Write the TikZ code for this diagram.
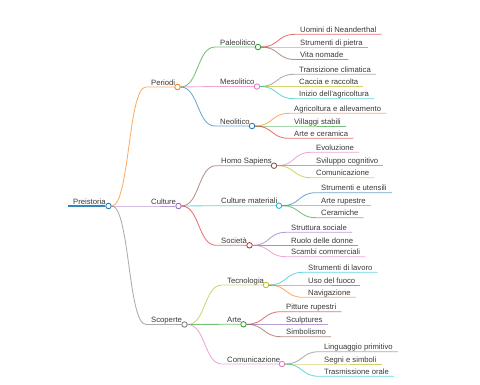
\documentclass[tikz,border=0pt]{standalone}
\usepackage{fontspec}
\setmainfont{Liberation Sans}
\usepackage{tikz}
\definecolor{c0}{HTML}{1F77B4}
\definecolor{c1}{HTML}{FF7F0E}
\definecolor{c2}{HTML}{2CA02C}
\definecolor{c3}{HTML}{D62728}
\definecolor{c4}{HTML}{9467BD}
\definecolor{c5}{HTML}{8C564B}
\definecolor{c6}{HTML}{E377C2}
\definecolor{c7}{HTML}{7F7F7F}
\definecolor{c8}{HTML}{BCBD22}
\definecolor{c9}{HTML}{17BECF}
\begin{document}
\begin{tikzpicture}[
    x=1pt, y=-1pt,
    lbl/.style={anchor=south west, inner xsep=5pt, inner ysep=1.8pt, text depth=0pt,
        text=black!78, font=\fontsize{7.7}{9}\selectfont},
    dot/.style={circle, draw=#1, fill=white, line width=0.85pt, inner sep=0pt, minimum size=5.5pt},
    link/.style={draw=#1, line width=0.85pt, draw opacity=0.65}
]
\useasboundingbox (0,0) rectangle (480,384);

\node[lbl] (pre) at (68,206) {Preistoria};
    \node[dot=c0] (pre-c) at (108.5,206) {};

\node[lbl] (per) at (146,87) {Periodi};
    \node[dot=c1] (per-c) at (177.5,87) {};
    \node[lbl] (cul) at (146,206) {Culture};
    \node[dot=c4] (cul-c) at (178.5,206) {};
    \node[lbl] (sco) at (146,324.5) {Scoperte};
    \node[dot=c7] (sco-c) at (184.5,324.5) {};

\node[lbl] (pal) at (215,47) {Paleolitico};
    \node[dot=c2] (pal-c) at (258,47) {};
    \node[lbl] (mes) at (215,86.5) {Mesolitico};
    \node[dot=c6] (mes-c) at (257,86.5) {};
    \node[lbl] (neo) at (215,126) {Neolitico};
    \node[dot=c0] (neo-c) at (252,126) {};
    \node[lbl] (hom) at (216,165.7) {Homo Sapiens};
    \node[dot=c5] (hom-c) at (274,165.7) {};
    \node[lbl] (cma) at (216,205.7) {Culture materiali};
    \node[dot=c9] (cma-c) at (279,205.7) {};
    \node[lbl] (soc) at (216,245.3) {Società};
    \node[dot=c3] (soc-c) at (249.5,245.3) {};
    \node[lbl] (tec) at (222,285) {Tecnologia};
    \node[dot=c8] (tec-c) at (266,285) {};
    \node[lbl] (art) at (222,324.3) {Arte};
    \node[dot=c2] (art-c) at (243.5,324.3) {};
    \node[lbl] (com) at (222,364) {Comunicazione};
    \node[dot=c6] (com-c) at (282,364) {};

\node[lbl] (pal1) at (295,34.3) {Uomini di Neanderthal};
    \node[lbl] (pal2) at (295,47) {Strumenti di pietra};
    \node[lbl] (pal3) at (295,59.5) {Vita nomade};
    \node[lbl] (mes1) at (294,74.3) {Transizione climatica};
    \node[lbl] (mes2) at (294,86.5) {Caccia e raccolta};
    \node[lbl] (mes3) at (294,98.7) {Inizio dell'agricoltura};
    \node[lbl] (neo1) at (289,113.3) {Agricoltura e allevamento};
    \node[lbl] (neo2) at (289,126) {Villaggi stabili};
    \node[lbl] (neo3) at (289,138.3) {Arte e ceramica};
    \node[lbl] (hom1) at (311,152.3) {Evoluzione};
    \node[lbl] (hom2) at (311,165.7) {Sviluppo cognitivo};
    \node[lbl] (hom3) at (311,177.7) {Comunicazione};
    \node[lbl] (cma1) at (316,192.7) {Strumenti e utensili};
    \node[lbl] (cma2) at (316,205.7) {Arte rupestre};
    \node[lbl] (cma3) at (316,217.7) {Ceramiche};
    \node[lbl] (soc1) at (286,232.3) {Struttura sociale};
    \node[lbl] (soc2) at (286,245.3) {Ruolo delle donne};
    \node[lbl] (soc3) at (286,256.7) {Scambi commerciali};
    \node[lbl] (tec1) at (303,272.3) {Strumenti di lavoro};
    \node[lbl] (tec2) at (303,285) {Uso del fuoco};
    \node[lbl] (tec3) at (303,297.3) {Navigazione};
    \node[lbl] (art1) at (281,311.7) {Pitture rupestri};
    \node[lbl] (art2) at (281,324.3) {Sculptures};
    \node[lbl] (art3) at (281,336.7) {Simbolismo};
    \node[lbl] (com1) at (319,351.7) {Linguaggio primitivo};
    \node[lbl] (com2) at (319,364) {Segni e simboli};
    \node[lbl] (com3) at (319,376.3) {Trasmissione orale};

\draw[link=c0, line width=1.1pt, draw opacity=0.9] (pre.south west) -- (pre-c.west);

\draw[link=c1] (pre-c.east) .. controls +(18,0) and +(-18,0) .. (per.south west) -- (per-c.west);
    \draw[link=c4] (pre-c.east) .. controls +(18,0) and +(-18,0) .. (cul.south west) -- (cul-c.west);
    \draw[link=c7] (pre-c.east) .. controls +(18,0) and +(-18,0) .. (sco.south west) -- (sco-c.west);

\draw[link=c2] (per-c.east) .. controls +(18,0) and +(-18,0) .. (pal.south west) -- (pal-c.west);
    \draw[link=c6] (per-c.east) .. controls +(18,0) and +(-18,0) .. (mes.south west) -- (mes-c.west);
    \draw[link=c0] (per-c.east) .. controls +(18,0) and +(-18,0) .. (neo.south west) -- (neo-c.west);
    \draw[link=c5] (cul-c.east) .. controls +(18,0) and +(-18,0) .. (hom.south west) -- (hom-c.west);
    \draw[link=c9] (cul-c.east) .. controls +(18,0) and +(-18,0) .. (cma.south west) -- (cma-c.west);
    \draw[link=c3] (cul-c.east) .. controls +(18,0) and +(-18,0) .. (soc.south west) -- (soc-c.west);
    \draw[link=c8] (sco-c.east) .. controls +(18,0) and +(-18,0) .. (tec.south west) -- (tec-c.west);
    \draw[link=c2] (sco-c.east) .. controls +(18,0) and +(-18,0) .. (art.south west) -- (art-c.west);
    \draw[link=c6] (sco-c.east) .. controls +(18,0) and +(-18,0) .. (com.south west) -- (com-c.west);

\draw[link=c3] (pal-c.east) .. controls +(18,0) and +(-18,0) .. (pal1.south west) -- (pal1.south east);
    \draw[link=c4] (pal-c.east) .. controls +(18,0) and +(-18,0) .. (pal2.south west) -- (pal2.south east);
    \draw[link=c5] (pal-c.east) .. controls +(18,0) and +(-18,0) .. (pal3.south west) -- (pal3.south east);
    \draw[link=c7] (mes-c.east) .. controls +(18,0) and +(-18,0) .. (mes1.south west) -- (mes1.south east);
    \draw[link=c8] (mes-c.east) .. controls +(18,0) and +(-18,0) .. (mes2.south west) -- (mes2.south east);
    \draw[link=c9] (mes-c.east) .. controls +(18,0) and +(-18,0) .. (mes3.south west) -- (mes3.south east);
    \draw[link=c1] (neo-c.east) .. controls +(18,0) and +(-18,0) .. (neo1.south west) -- (neo1.south east);
    \draw[link=c2] (neo-c.east) .. controls +(18,0) and +(-18,0) .. (neo2.south west) -- (neo2.south east);
    \draw[link=c3] (neo-c.east) .. controls +(18,0) and +(-18,0) .. (neo3.south west) -- (neo3.south east);

\draw[link=c6] (hom-c.east) .. controls +(18,0) and +(-18,0) .. (hom1.south west) -- (hom1.south east);
    \draw[link=c7] (hom-c.east) .. controls +(18,0) and +(-18,0) .. (hom2.south west) -- (hom2.south east);
    \draw[link=c8] (hom-c.east) .. controls +(18,0) and +(-18,0) .. (hom3.south west) -- (hom3.south east);
    \draw[link=c0] (cma-c.east) .. controls +(18,0) and +(-18,0) .. (cma1.south west) -- (cma1.south east);
    \draw[link=c1] (cma-c.east) .. controls +(18,0) and +(-18,0) .. (cma2.south west) -- (cma2.south east);
    \draw[link=c2] (cma-c.east) .. controls +(18,0) and +(-18,0) .. (cma3.south west) -- (cma3.south east);
    \draw[link=c4] (soc-c.east) .. controls +(18,0) and +(-18,0) .. (soc1.south west) -- (soc1.south east);
    \draw[link=c5] (soc-c.east) .. controls +(18,0) and +(-18,0) .. (soc2.south west) -- (soc2.south east);
    \draw[link=c6] (soc-c.east) .. controls +(18,0) and +(-18,0) .. (soc3.south west) -- (soc3.south east);

\draw[link=c9] (tec-c.east) .. controls +(18,0) and +(-18,0) .. (tec1.south west) -- (tec1.south east);
    \draw[link=c0] (tec-c.east) .. controls +(18,0) and +(-18,0) .. (tec2.south west) -- (tec2.south east);
    \draw[link=c1] (tec-c.east) .. controls +(18,0) and +(-18,0) .. (tec3.south west) -- (tec3.south east);
    \draw[link=c3] (art-c.east) .. controls +(18,0) and +(-18,0) .. (art1.south west) -- (art1.south east);
    \draw[link=c4] (art-c.east) .. controls +(18,0) and +(-18,0) .. (art2.south west) -- (art2.south east);
    \draw[link=c5] (art-c.east) .. controls +(18,0) and +(-18,0) .. (art3.south west) -- (art3.south east);
    \draw[link=c7] (com-c.east) .. controls +(18,0) and +(-18,0) .. (com1.south west) -- (com1.south east);
    \draw[link=c8] (com-c.east) .. controls +(18,0) and +(-18,0) .. (com2.south west) -- (com2.south east);
    \draw[link=c9] (com-c.east) .. controls +(18,0) and +(-18,0) .. (com3.south west) -- (com3.south east);
\end{tikzpicture}
\end{document}
